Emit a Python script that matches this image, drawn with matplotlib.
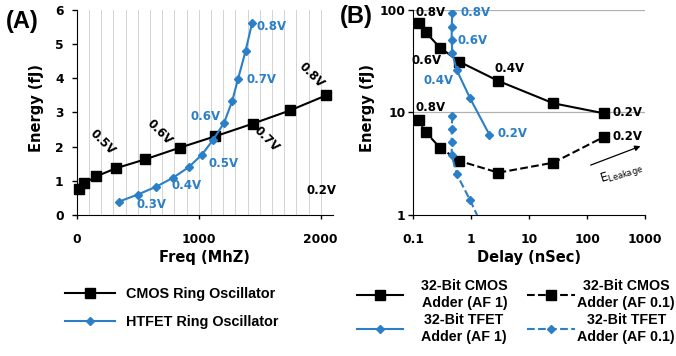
import matplotlib
matplotlib.use('Agg')
import matplotlib.pyplot as plt
from matplotlib.ticker import FixedLocator, NullLocator, FuncFormatter

plt.rcParams['font.family'] = ['DejaVu Sans']
plt.rcParams['font.weight'] = 'bold'
plt.rcParams['mathtext.fontset'] = 'custom'
plt.rcParams['mathtext.rm'] = 'Liberation Sans'

BLUE = '#2a7fc6'
ARIAL = ['Liberation Sans', 'DejaVu Sans']

# ---- panel A: ring oscillators ----
cmos_freq = [22, 63, 159, 323, 562, 844, 1132, 1441, 1748, 2044]
cmos_energy = [0.76, 0.93, 1.13, 1.37, 1.63, 1.97, 2.30, 2.67, 3.06, 3.50]
htfet_freq = [345, 501, 652, 789, 918, 1027, 1118, 1208, 1274, 1323, 1384, 1438]
htfet_energy = [0.39, 0.60, 0.83, 1.09, 1.40, 1.77, 2.20, 2.70, 3.33, 3.99, 4.80, 5.63]

cmos_a_labels = ['0.5V', '0.6V', '0.7V', '0.8V']
cmos_a_lx = [214, 679, 1556, 1926]
cmos_a_ly = [2.13, 2.43, 2.23, 4.09]
htfet_labels = ['0.3V', '0.4V', '0.5V', '0.6V', '0.7V', '0.8V']
htfet_lx = [611, 899, 1200, 1058, 1515, 1597]
htfet_ly = [0.32, 0.86, 1.52, 2.87, 3.96, 5.53]

# ---- panel B: 32-bit adders ----
cmos1_delay = [0.125, 0.164, 0.289, 0.622, 2.94, 26.1, 198]
cmos1_energy = [75.2, 60.5, 42.9, 31.3, 20.3, 12.3, 9.8]
cmos01_delay = [0.125, 0.164, 0.289, 0.622, 2.94, 26.1, 198]
cmos01_energy = [8.45, 6.41, 4.54, 3.37, 2.59, 3.24, 5.81]
tfet1_delay = [0.471, 0.46, 0.46, 0.47, 0.561, 0.953, 2.05]
tfet1_energy = [94, 68.7, 51, 38, 26, 13.8, 6.1]
tfet01_delay = [0.471, 0.46, 0.46, 0.46, 0.561, 0.953, 1.6]
tfet01_energy = [9.3, 6.86, 5.12, 3.85, 2.51, 1.40, 0.75]

fig = plt.figure(figsize=(6.76, 3.56), dpi=100)

# panel A
axA = fig.add_axes([0.1135, 0.396, 0.379, 0.576])
for gx in range(100, 2200, 100):
    axA.axvline(gx, color='#d4d4d4', lw=0.7, zorder=0)
lA1, = axA.plot(cmos_freq, cmos_energy, color='black', lw=1.5, marker='s',
                ms=7, clip_on=False, zorder=3)
lA2, = axA.plot(htfet_freq, htfet_energy, color=BLUE, lw=1.5, marker='D',
                ms=4.5, clip_on=False, zorder=3)
axA.set_xlim(0, 2100)
axA.set_ylim(0, 6)
axA.set_xticks([0, 1000, 2000])
axA.set_yticks(range(7))
axA.spines['top'].set_visible(False)
axA.spines['right'].set_visible(False)
axA.tick_params(axis='x', labelsize=8.8, length=3, width=1, pad=10)
axA.tick_params(axis='y', labelsize=8.8, length=3.5, width=1, pad=6)
axA.set_xlabel('Freq (MhZ)', fontsize=10.5, fontweight='bold')
axA.set_ylabel('Energy (fJ)', fontsize=10.5, fontweight='bold')
axA.xaxis.set_label_coords(0.5, -0.17)
axA.yaxis.set_label_coords(-0.128, 0.52)
for t, x, y in zip(cmos_a_labels, cmos_a_lx, cmos_a_ly):
    axA.text(x, y, t, rotation=-45, ha='center', va='center', fontsize=8.5,
             rotation_mode='anchor', color='black')
axA.text(2008, 0.71, '0.2V', ha='center', va='center', fontsize=8.5, color='black')
for t, x, y in zip(htfet_labels, htfet_lx, htfet_ly):
    axA.text(x, y, t, ha='center', va='center', fontsize=8.5, color=BLUE)
fig.text(0.008, 0.94, '(A)', fontsize=17, fontweight='bold', ha='left',
         va='center', family=ARIAL)

# panel B
axB = fig.add_axes([0.6114, 0.396, 0.3428, 0.576])
axB.set_xscale('log')
axB.set_yscale('log')
axB.set_xlim(0.1, 1000)
axB.set_ylim(1, 100)
for gy in [10, 100]:
    axB.axhline(gy, color='#b0b0b0', lw=0.9, zorder=0)
lB1, = axB.plot(cmos1_delay, cmos1_energy, color='black', lw=1.5, marker='s',
                ms=6.5, zorder=3)
lB2, = axB.plot(cmos01_delay, cmos01_energy, color='black', lw=1.5, ls='--',
                marker='s', ms=6.5, zorder=3)
lB3, = axB.plot(tfet1_delay, tfet1_energy, color=BLUE, lw=1.5, marker='D',
                ms=4.5, zorder=3)
lB4, = axB.plot(tfet01_delay, tfet01_energy, color=BLUE, lw=1.5, ls='--',
                marker='D', ms=4.5, zorder=3)
axB.xaxis.set_major_locator(FixedLocator([0.1, 1, 10, 100, 1000]))
axB.yaxis.set_major_locator(FixedLocator([1, 10, 100]))
axB.xaxis.set_minor_locator(NullLocator())
axB.yaxis.set_minor_locator(NullLocator())
fmt = FuncFormatter(lambda v, p: ('%g' % v))
axB.xaxis.set_major_formatter(fmt)
axB.yaxis.set_major_formatter(fmt)
axB.spines['top'].set_visible(False)
axB.spines['right'].set_visible(False)
axB.tick_params(axis='x', labelsize=8.8, length=3, width=1, pad=10)
axB.tick_params(axis='y', labelsize=8.8, length=3.5, width=1, pad=2)
axB.set_xlabel('Delay (nSec)', fontsize=10.5, fontweight='bold')
axB.set_ylabel('Energy (fJ)', fontsize=10.5, fontweight='bold')
axB.xaxis.set_label_coords(0.5, -0.17)
axB.yaxis.set_label_coords(-0.165, 0.52)

b_black = [('0.8V', 0.107, 94), ('0.6V', 0.094, 32.5), ('0.4V', 2.57, 26.6),
           ('0.2V', 269, 9.9), ('0.8V', 0.107, 11.1), ('0.2V', 269, 5.77)]
for t, x, y in b_black:
    axB.text(x, y, t, ha='left', va='center', fontsize=8.5, color='black',
             clip_on=False)
b_blue = [('0.8V', 0.658, 94, 'left'), ('0.6V', 0.59, 49.9, 'left'),
          ('0.4V', 0.49, 20.3, 'right'), ('0.2V', 2.79, 6.3, 'left')]
for t, x, y, ha in b_blue:
    axB.text(x, y, t, ha=ha, va='center', fontsize=8.5, color=BLUE)
axB.annotate('', xy=(925, 4.8), xytext=(104, 3.0),
             arrowprops=dict(arrowstyle='-|>', color='black', lw=0.9,
                             mutation_scale=8))
axB.text(385, 2.55, r'$\mathregular{E_{Leakage}}$', rotation=17, ha='center',
         va='center', fontsize=8.5, fontweight='normal')
fig.text(0.503, 0.955, '(B)', fontsize=17, fontweight='bold', ha='left',
         va='center', family=ARIAL)

# legends
legA = fig.legend([lA1, lA2], ['CMOS Ring Oscillator', 'HTFET Ring Oscillator'],
                  loc='upper left', bbox_to_anchor=(0.096, 0.194), frameon=False,
                  prop={'family': ARIAL, 'weight': 'bold', 'size': 10.4},
                  handlelength=3.5, labelspacing=0.95, handletextpad=0.7,
                  borderaxespad=0, borderpad=0)
legB1 = fig.legend([lB1, lB3], ['32-Bit CMOS\nAdder (AF 1)', '32-Bit TFET\nAdder (AF 1)'],
                   loc='upper left', bbox_to_anchor=(0.528, 0.215), frameon=False,
                   prop={'family': ARIAL, 'weight': 'bold', 'size': 10.3},
                   handlelength=3.2, labelspacing=0.2, handletextpad=1.3,
                   borderaxespad=0, borderpad=0)
legB2 = fig.legend([lB2, lB4], ['32-Bit CMOS\nAdder (AF 0.1)', '32-Bit TFET\nAdder (AF 0.1)'],
                   loc='upper left', bbox_to_anchor=(0.779, 0.215), frameon=False,
                   prop={'family': ARIAL, 'weight': 'bold', 'size': 10.3},
                   handlelength=3.4, labelspacing=0.2, handletextpad=0.15,
                   borderaxespad=0, borderpad=0)
for leg in (legB1, legB2):
    for t in leg.get_texts():
        t.set_multialignment('center')
        t.set_linespacing(1.25)

fig.savefig('out.png', dpi=100)
